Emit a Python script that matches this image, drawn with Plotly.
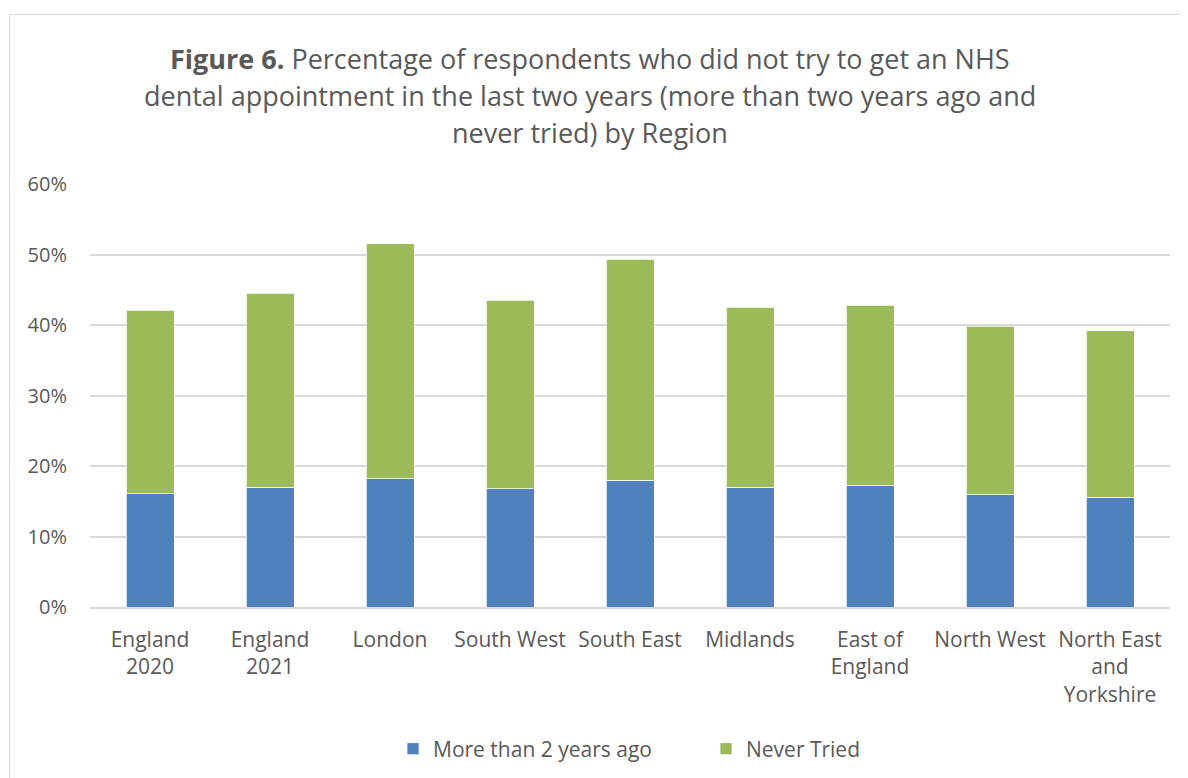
import plotly.graph_objects as go

categories = ["England<br>2020", "England<br>2021", "London", "South West", "South East",
              "Midlands", "East of<br>England", "North West", "North East<br>and<br>Yorkshire"]
more_than_2_years = [16.1, 17.0, 18.2, 16.8, 18.0, 17.0, 17.3, 15.9, 15.6]
never_tried = [26.0, 27.5, 33.3, 26.7, 31.3, 25.5, 25.5, 23.9, 23.6]
series_names = ["More than 2 years ago", "Never Tried"]
y_ticks = [0, 10, 20, 30, 40, 50, 60]
y_tick_labels = ["0%", "10%", "20%", "30%", "40%", "50%", "60%"]

# page body has an 8px margin; positions below are in screenshot pixels
OFF = 8
W, H = 1188, 778
L, R, T, B = 90 - OFF, 26, 184 - OFF, 778 - (607 - OFF)
PW, PH = W - L - R, H - T - B

def px_x(x):
    return (x - OFF - L) / PW

def px_y(y):
    return (H - B - (y - OFF)) / PH

FONT = "Open Sans"
TXT = "#595959"

fig = go.Figure()
fig.add_trace(go.Bar(x=categories, y=more_than_2_years, name=series_names[0],
                     marker=dict(color="#4F81BD", line=dict(color="#ffffff", width=0.75))))
fig.add_trace(go.Bar(x=categories, y=never_tried, name=series_names[1],
                     marker=dict(color="#9BBB59", line=dict(color="#ffffff", width=0.75))))

title_lines = [
    "<b>Figure 6.</b> Percentage of respondents who did not try to get an NHS",
    "dental appointment in the last two years (more than two years ago and",
    "never tried) by Region",
]
for line, yc in zip(title_lines, [58, 96, 133]):
    fig.add_annotation(text=line, xref="paper", yref="paper", x=px_x(590), y=px_y(yc),
                       xanchor="center", yanchor="middle", showarrow=False,
                       font=dict(family=FONT, size=27, color=TXT))

fig.add_shape(type="rect", xref="paper", yref="paper",
              x0=px_x(9.5), y0=px_y(800), x1=px_x(1200), y1=px_y(14.5),
              line=dict(color="#d9d9d9", width=1), fillcolor="rgba(0,0,0,0)", layer="below")

fig.update_layout(
    width=W, height=H,
    margin=dict(l=L, r=R, t=T, b=B, autoexpand=False),
    barmode="stack", bargap=0.6,
    plot_bgcolor="white", paper_bgcolor="white",
    font=dict(family=FONT, size=21, color=TXT),
    showlegend=True,
    legend=dict(orientation="h", x=px_x(393), y=px_y(749), xanchor="left", yanchor="middle",
                font=dict(family=FONT, size=21, color=TXT), itemwidth=30, traceorder="normal",
                entrywidth=268),
    xaxis=dict(showgrid=False, showline=True, linecolor="#d9d9d9", linewidth=1.5,
               ticks="", tickangle=0, tickfont=dict(size=21, color=TXT), ticklabelstandoff=13),
    yaxis=dict(range=[0, 60], tickvals=y_ticks, ticktext=y_tick_labels, showgrid=True,
               gridcolor="#d9d9d9", gridwidth=1.5, zeroline=False, showline=False,
               tickfont=dict(size=20, color=TXT), ticklabelstandoff=22),
)

fig.write_html("out.html")
